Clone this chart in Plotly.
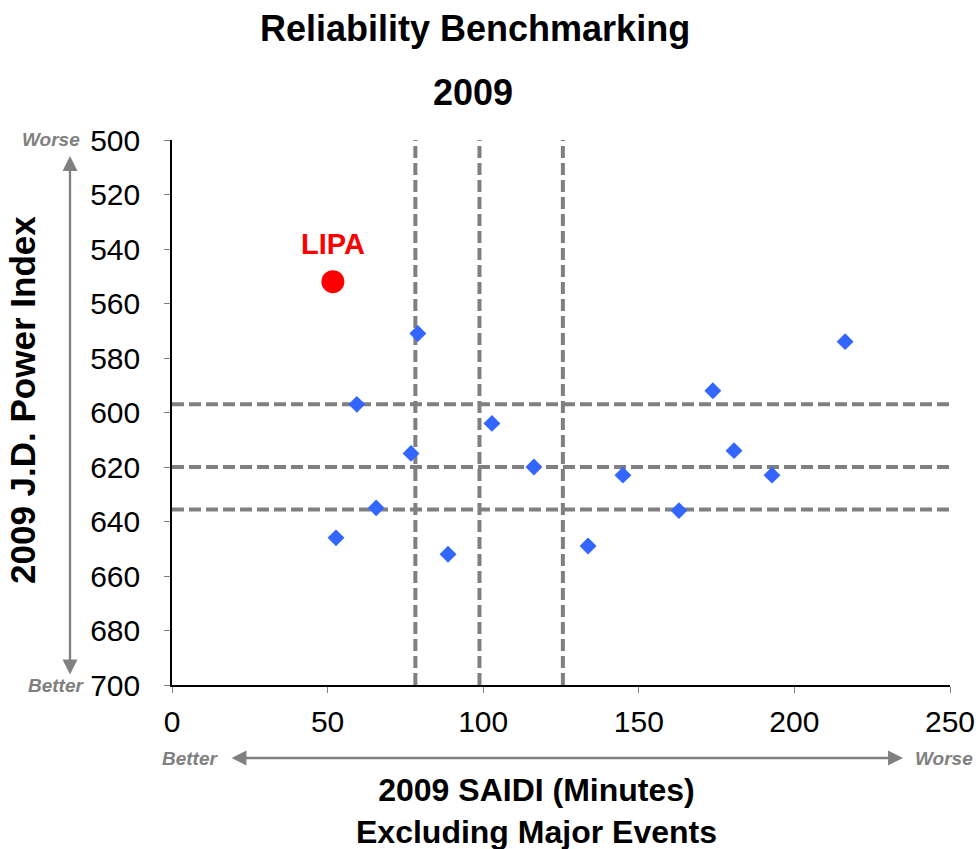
import plotly.graph_objects as go

# Peer utilities: 2009 SAIDI (minutes, excl. major events) vs 2009 J.D. Power index
saidi = [79, 59.4, 76.8, 65.6, 52.7, 88.7, 102.8, 116.3, 133.7, 144.9, 162.9, 173.8, 180.6, 192.8, 216.3]
jdpower = [571, 597, 615, 635, 646, 652, 604, 620, 649, 623, 636, 592, 614, 623, 574]

lipa_name = "LIPA"
lipa_saidi = [51.7]
lipa_jdp = [552]

# Quartile reference lines
saidi_quartiles = [78.2, 98.8, 125.6]
jdp_quartiles = [597, 620, 635.6]

x_ticks = [0, 50, 100, 150, 200, 250]
y_ticks = [500, 520, 540, 560, 580, 600, 620, 640, 660, 680, 700]

FONT = "Liberation Sans, Arial, sans-serif"
GREY = "#808080"

fig = go.Figure()

# reference dashed lines
for xv in saidi_quartiles:
    fig.add_shape(type="line", xref="x", yref="paper", x0=xv, x1=xv, y0=0, y1=1,
                  line=dict(color=GREY, width=4, dash="12px,5px"), layer="below")
for yv in jdp_quartiles:
    fig.add_shape(type="line", xref="paper", yref="y", x0=0, x1=1, y0=yv, y1=yv,
                  line=dict(color=GREY, width=4, dash="12px,5px"), layer="below")

fig.add_trace(go.Scatter(x=saidi, y=jdpower, mode="markers",
                         marker=dict(symbol="diamond", size=13, color="#3366FF", line=dict(width=0)),
                         showlegend=False, cliponaxis=False))
fig.add_trace(go.Scatter(x=lipa_saidi, y=lipa_jdp, mode="markers",
                         marker=dict(symbol="circle", size=23, color="#FF0000", line=dict(width=0)),
                         showlegend=False))

def txt(x, y, text, size, color="black", angle=0, ref="paper"):
    return dict(x=x, y=y, xref=ref, yref=ref, text=text, showarrow=False,
                xanchor="center", yanchor="middle", textangle=angle,
                font=dict(family=FONT, size=size, color=color))

ann = []
a = txt(lipa_saidi[0], lipa_jdp[0], lipa_name.join(["<b>", "</b>"]), 29, "#FF0000", ref="x")
a["yref"] = "y"
a["yshift"] = 38
ann.append(a)
# Titles
ann.append(txt(0.3895, 1.2055, "<b>Reliability Benchmarking</b>", 36))
ann.append(txt(0.387, 1.088, "<b>2009</b>", 36))
ann.append(txt(0.468, -0.231, "<b>2009 SAIDI (Minutes)</b><br><b>Excluding Major Events</b>", 32))
ann.append(txt(-0.1915, 0.523, "<b>2009 J.D. Power Index</b>", 35, angle=-90))
# Better / Worse labels
ann.append(txt(-0.1555, 1.0018, "<b><i>Worse</i></b>", 19, GREY))
ann.append(txt(-0.149, 0.0, "<b><i>Better</i></b>", 19, GREY))
ann.append(txt(0.0244, -0.134, "<b><i>Better</i></b>", 19, GREY))
ann.append(txt(0.9917, -0.134, "<b><i>Worse</i></b>", 19, GREY))
# Arrows
ann.append(dict(x=-0.1311, y=0.9706, xref="paper", yref="paper", ax=0, ay=520, text="",
                showarrow=True, arrowside="end+start", arrowhead=2, startarrowhead=2,
                arrowsize=1.3, startarrowsize=1.3, arrowwidth=2.3, arrowcolor=GREY,
                standoff=0, startstandoff=0))
ann.append(dict(x=0.9396, y=-0.1339, xref="paper", yref="paper", ax=-673, ay=0, text="",
                showarrow=True, arrowside="end+start", arrowhead=2, startarrowhead=2,
                arrowsize=1.3, startarrowsize=1.3, arrowwidth=2.3, arrowcolor=GREY,
                standoff=0, startstandoff=0))

fig.update_layout(
    width=979, height=849,
    margin=dict(l=172, r=29, t=140, b=164, autoexpand=False),
    paper_bgcolor="white", plot_bgcolor="white",
    annotations=ann,
    showlegend=False,
    font=dict(family=FONT),
)
fig.update_xaxes(range=[0, 250], tickvals=x_ticks, showgrid=False, zeroline=False,
                 showline=True, linecolor="black", linewidth=1.5, automargin=False,
                 ticks="outside", ticklen=6, tickcolor=GREY, tickwidth=1,
                 ticklabelstandoff=3,
                 tickfont=dict(family=FONT, size=30, color="black"))
fig.update_yaxes(range=[700, 500], tickvals=y_ticks, showgrid=False, zeroline=False,
                 showline=True, linecolor="black", linewidth=1.5, automargin=False,
                 ticks="outside", ticklen=6, tickcolor=GREY, tickwidth=1,
                 ticklabelstandoff=18,
                 tickfont=dict(family=FONT, size=30, color="black"))

fig.write_html("out.html")
